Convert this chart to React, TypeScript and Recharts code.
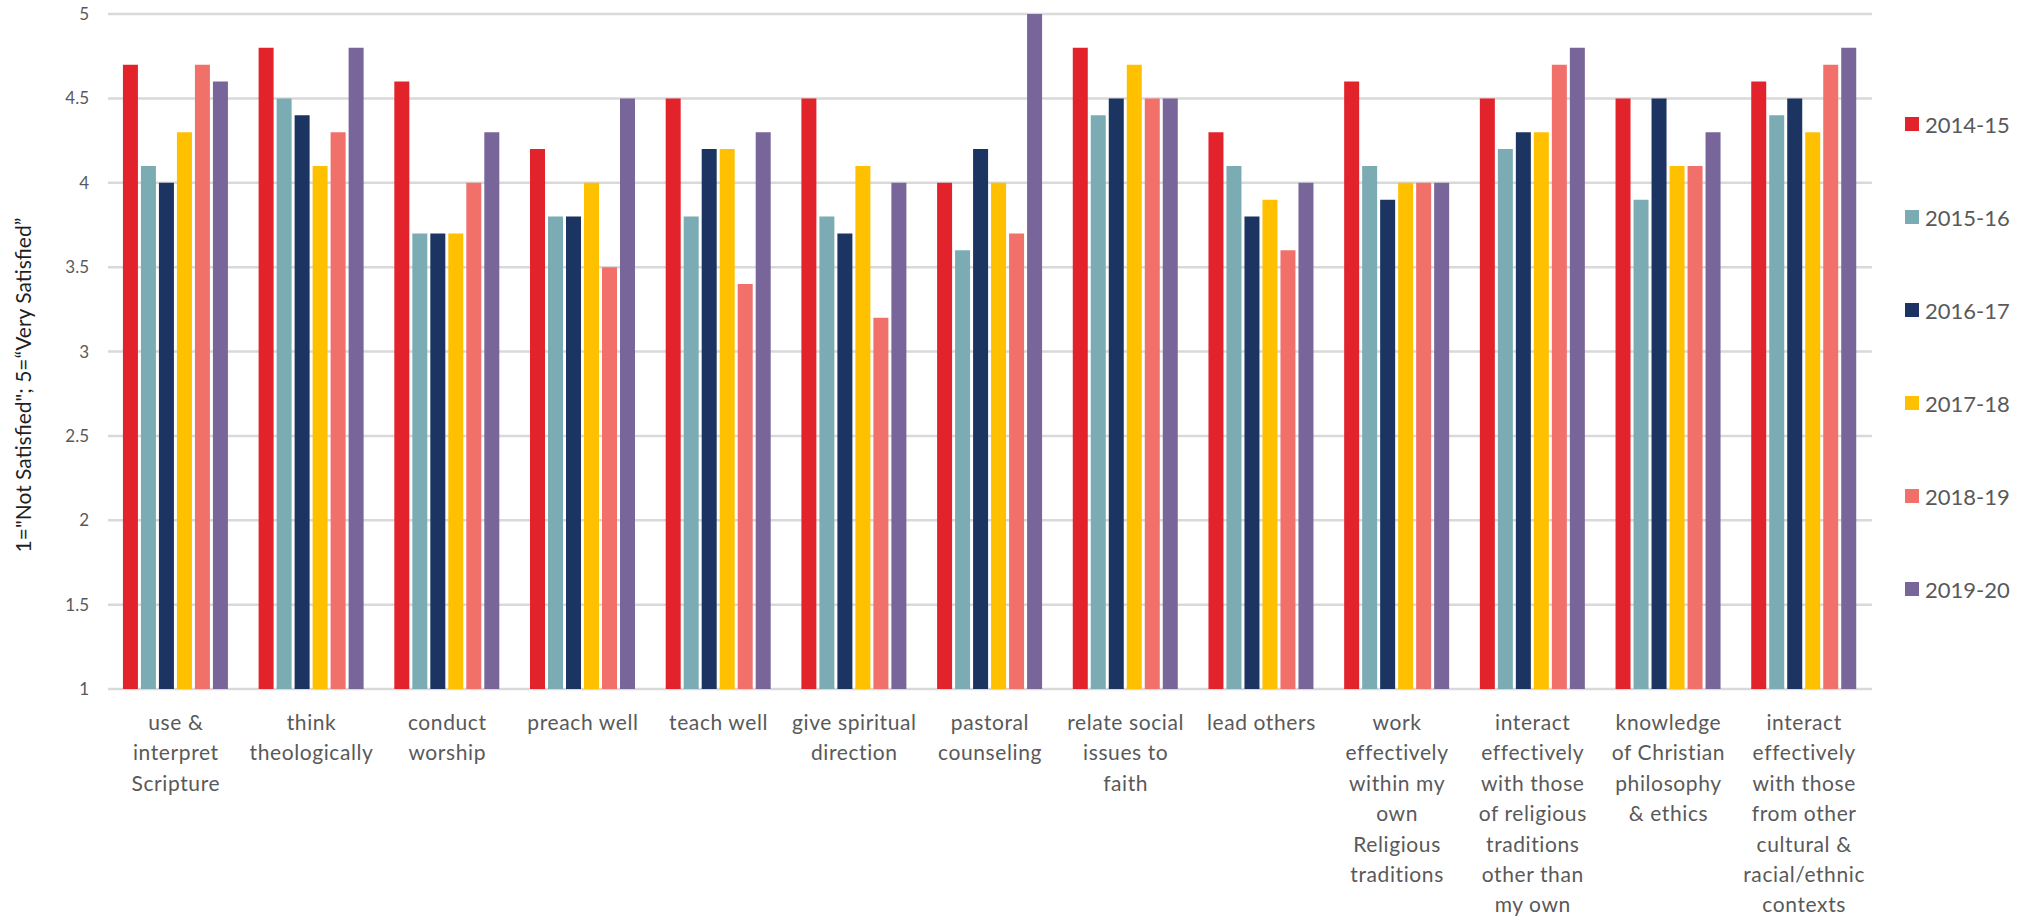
import React from 'react';
import { BarChart, Bar, XAxis, YAxis, CartesianGrid } from 'recharts';

const categories = [
  'use &\ninterpret\nScripture',
  'think\ntheologically',
  'conduct\nworship',
  'preach well',
  'teach well',
  'give spiritual\ndirection',
  'pastoral\ncounseling',
  'relate social\nissues to\nfaith',
  'lead others',
  'work\neffectively\nwithin my\nown\nReligious\ntraditions',
  'interact\neffectively\nwith those\nof religious\ntraditions\nother than\nmy own',
  'knowledge\nof Christian\nphilosophy\n& ethics',
  'interact\neffectively\nwith those\nfrom other\ncultural &\nracial/ethnic\ncontexts',
];

const years = ['2014-15', '2015-16', '2016-17', '2017-18', '2018-19', '2019-20'];
const colors = ['#E3232B', '#7BACB3', '#1B3461', '#FFC000', '#F2706A', '#78659A'];

const v1415 = [4.7, 4.8, 4.6, 4.2, 4.5, 4.5, 4.0, 4.8, 4.3, 4.6, 4.5, 4.5, 4.6];
const v1516 = [4.1, 4.5, 3.7, 3.8, 3.8, 3.8, 3.6, 4.4, 4.1, 4.1, 4.2, 3.9, 4.4];
const v1617 = [4.0, 4.4, 3.7, 3.8, 4.2, 3.7, 4.2, 4.5, 3.8, 3.9, 4.3, 4.5, 4.5];
const v1718 = [4.3, 4.1, 3.7, 4.0, 4.2, 4.1, 4.0, 4.7, 3.9, 4.0, 4.3, 4.1, 4.3];
const v1819 = [4.7, 4.3, 4.0, 3.5, 3.4, 3.2, 3.7, 4.5, 3.6, 4.0, 4.7, 4.1, 4.7];
const v1920 = [4.6, 4.8, 4.3, 4.5, 4.3, 4.0, 5.0, 4.5, 4.0, 4.0, 4.8, 4.3, 4.8];

const yTicks = [1, 1.5, 2, 2.5, 3, 3.5, 4, 4.5, 5];
const yTitle = '1="Not Satisfied"; 5=\u201CVery Satisfied\u201D';

const series = [v1415, v1516, v1617, v1718, v1819, v1920];
const data = categories.map((name, i) => {
  const row: Record<string, string | number> = { name };
  years.forEach((y, k) => {
    row[y] = series[k][i];
  });
  return row;
});

const FONT = 'Lato, "Open Sans", sans-serif';

const CategoryTick = (props: any) => {
  const { x, y, payload } = props;
  const lines = String(payload.value).split('\n');
  return (
    <text x={x} y={y + 41} textAnchor="middle" fill="#595959" fontSize={21} fontFamily={FONT} letterSpacing={0.6}>
      {lines.map((line, i) => (
        <tspan key={i} x={x} dy={i === 0 ? 0 : 30.4}>
          {line}
        </tspan>
      ))}
    </text>
  );
};

const YTitle = () => (
  <text
    x={22}
    y={385}
    transform="rotate(-90, 22, 385)"
    textAnchor="middle"
    dominantBaseline="central"
    fill="#1f1f1f"
    fontSize={21}
    fontFamily={FONT}
  >
    {yTitle}
  </text>
);

export default function App() {
  return (
    <div style={{ position: 'absolute', left: 0, top: 0, width: 2028, height: 921, background: '#fff' }}>
      <BarChart
        width={2028}
        height={921}
        data={data}
        margin={{ top: 14, right: 156, left: 0, bottom: 0 }}
        barCategoryGap="11%"
        barGap={3}
      >
        <CartesianGrid vertical={false} stroke="#D9D9D9" strokeWidth={2.5} />
        <XAxis
          dataKey="name"
          interval={0}
          height={232}
          axisLine={false}
          tickLine={false}
          tickSize={0}
          tickMargin={0}
          tick={<CategoryTick />}
        />
        <YAxis
          width={108}
          domain={[1, 5]}
          ticks={yTicks}
          allowDataOverflow
          axisLine={false}
          tickLine={false}
          tickSize={0}
          tickMargin={19}
          tick={{ fill: '#595959', fontSize: 17, fontFamily: FONT }}
          label={<YTitle />}
        />
        {years.map((y, k) => (
          <Bar key={y} dataKey={y} fill={colors[k]} isAnimationActive={false} />
        ))}
      </BarChart>
      <div style={{ position: 'absolute', left: 1905, top: 0, fontFamily: FONT }}>
        {years.map((y, k) => (
          <div
            key={y}
            style={{
              position: 'absolute',
              top: 124 + k * 93 - 15,
              height: 30,
              display: 'flex',
              alignItems: 'center',
              whiteSpace: 'nowrap',
            }}
          >
            <span style={{ display: 'inline-block', width: 14, height: 14, background: colors[k], marginRight: 6 }} />
            <span style={{ fontSize: 22, color: '#595959' }}>{y}</span>
          </div>
        ))}
      </div>
    </div>
  );
}
